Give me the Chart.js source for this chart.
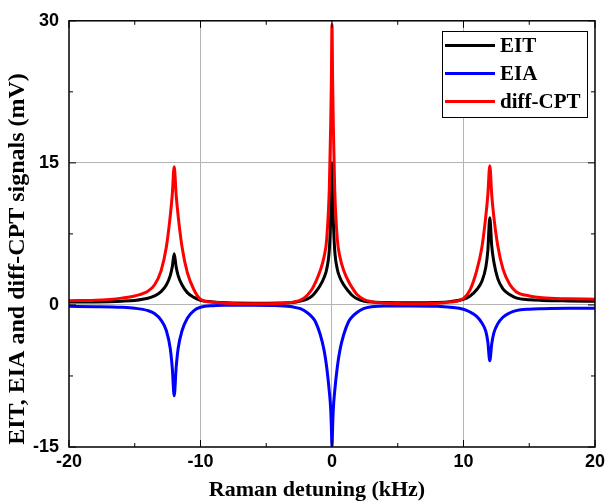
<!DOCTYPE html>
<html>
<head>
<meta charset="utf-8">
<script src="https://cdn.jsdelivr.net/npm/chart.js@4.4.0/dist/chart.umd.min.js"></script>
<style>
    html, body { margin: 0; padding: 0; background: #fff; }
    #wrap { width: 609px; height: 504px; }
</style>
</head>
<body>
<div id="wrap"><canvas id="cptChart" width="609" height="504"></canvas></div>
<script>
// Raman detuning (kHz)
const detuning = [
    -20, -18, -16, -15, -14, -13.5, -13, -12.6, -12.3, -12.15,
    -12, -11.85, -11.7, -11.4, -11, -10.5, -10, -9, -8, -6,
    -4, -3, -2.4, -1.9, -1.5, -1.25, -0.9, -0.6, -0.4, -0.2,
    -0.1, -0.05, 0, 0.05, 0.1, 0.2, 0.4, 0.6, 0.9, 1.25,
    1.5, 1.9, 2.4, 3, 4, 6, 8, 9, 10, 10.5,
    11, 11.4, 11.7, 11.85, 12, 12.15, 12.3, 12.6, 13, 13.5,
    14, 15, 16, 18, 20
];

// signals (mV)
const eitSignal = [
    0.3, 0.32, 0.4, 0.48, 0.7, 0.95, 1.4, 2.1, 3.1, 4.0,
    5.4, 4.0, 3.1, 2.1, 1.3, 0.8, 0.5, 0.3, 0.22, 0.18,
    0.2, 0.25, 0.4, 0.62, 0.95, 1.35, 2.05, 2.9, 3.8, 5.9,
    9.0, 11.5, 15.0, 11.5, 9.0, 5.9, 3.8, 2.9, 2.1, 1.45,
    1.05, 0.65, 0.42, 0.3, 0.25, 0.22, 0.25, 0.35, 0.6, 0.95,
    1.6, 2.5, 4.0, 5.7, 9.2, 6.2, 4.6, 2.8, 1.7, 1.1,
    0.75, 0.55, 0.48, 0.42, 0.38
];

const eiaSignal = [
    -0.15, -0.18, -0.25, -0.35, -0.6, -0.9, -1.6, -2.7, -4.6, -6.6,
    -9.6, -6.6, -4.6, -2.7, -1.4, -0.6, -0.25, -0.08, -0.04, -0.03,
    -0.08, -0.2, -0.4, -0.8, -1.3, -1.8, -3.1, -4.8, -6.6, -9.2,
    -11, -12.8, -15, -12.8, -11, -9.2, -6.6, -4.8, -3.1, -1.8,
    -1.3, -0.8, -0.4, -0.2, -0.1, -0.1, -0.15, -0.25, -0.45, -0.75,
    -1.2, -1.9, -2.8, -3.9, -5.9, -4.1, -3.0, -2.0, -1.3, -0.85,
    -0.6, -0.45, -0.4, -0.35, -0.35
];

const cptSignal = [
    0.45, 0.5, 0.72, 0.95, 1.45, 2.1, 3.6, 6.1, 9.4, 11.6,
    14.6, 11.6, 9.4, 6.1, 3.4, 1.6, 0.6, 0.28, 0.18, 0.12,
    0.15, 0.28, 0.5, 1.0, 1.7, 2.4, 3.6, 5.1, 7.0, 12.5,
    19, 23.5, 29.6, 23.5, 19, 12.5, 7.0, 5.1, 3.6, 2.5,
    1.9, 1.1, 0.6, 0.35, 0.2, 0.12, 0.18, 0.3, 0.7, 1.6,
    3.6, 6.1, 9.4, 11.6, 14.7, 11.6, 9.4, 6.3, 3.8, 2.2,
    1.4, 0.95, 0.75, 0.65, 0.6
];

const xMajor = [-20, -10, 0, 10, 20];
const xMinor = [-15, -5, 5, 15];
const yMajor = [-15, 0, 15, 30];
const yMinor = [-7.5, 7.5, 22.5];

const seriesNames = ['EIT', 'EIA', 'diff-CPT'];
const seriesColors = ['#000000', '#0000ff', '#ff0000'];

const toPoints = values => values.map((v, i) => ({ x: detuning[i], y: v }));

const tickFont = { family: "'Liberation Sans', Arial, sans-serif", size: 18, weight: 'bold' };

// frame, inward ticks, axis titles and the boxed legend
const decorations = {
    id: 'decorations',
    afterDraw(chart) {
        const { ctx, chartArea: a, scales: { x, y } } = chart;
        ctx.save();
        ctx.strokeStyle = '#000';
        ctx.lineWidth = 1.5;
        ctx.strokeRect(a.left, a.top, a.right - a.left, a.bottom - a.top);

        ctx.lineWidth = 1;
        ctx.beginPath();
        const tick = (vals, len) => {
            vals.forEach(v => {
                const px = x.getPixelForValue(v);
                ctx.moveTo(px, a.bottom); ctx.lineTo(px, a.bottom - len);
                ctx.moveTo(px, a.top); ctx.lineTo(px, a.top + len);
            });
        };
        const ytick = (vals, len) => {
            vals.forEach(v => {
                const py = y.getPixelForValue(v);
                ctx.moveTo(a.left, py); ctx.lineTo(a.left + len, py);
                ctx.moveTo(a.right, py); ctx.lineTo(a.right - len, py);
            });
        };
        tick(xMajor, 7); tick(xMinor, 4);
        ytick(yMajor, 7); ytick(yMinor, 4);
        ctx.stroke();

        // axis titles
        ctx.fillStyle = '#000';
        ctx.textAlign = 'center';
        ctx.textBaseline = 'middle';
        ctx.font = "bold 22px 'Liberation Serif', 'Times New Roman', serif";
        ctx.fillText('Raman detuning (kHz)', 317, 490);
        ctx.save();
        ctx.translate(18, 259);
        ctx.rotate(-Math.PI / 2);
        ctx.font = "bold 24px 'Liberation Serif', 'Times New Roman', serif";
        ctx.fillText('EIT, EIA and diff-CPT signals (mV)', 0, 0);
        ctx.restore();

        // legend
        ctx.fillStyle = '#fff';
        ctx.fillRect(442, 31, 146, 87);
        ctx.lineWidth = 1;
        ctx.strokeStyle = '#000';
        ctx.strokeRect(442.5, 31.5, 145, 86);
        ctx.font = "bold 21px 'Liberation Serif', 'Times New Roman', serif";
        ctx.textAlign = 'left';
        const rows = [45.5, 73.5, 101.5];
        seriesNames.forEach((name, i) => {
            ctx.strokeStyle = seriesColors[i];
            ctx.lineWidth = 3;
            ctx.beginPath();
            ctx.moveTo(445, rows[i]);
            ctx.lineTo(495, rows[i]);
            ctx.stroke();
            ctx.fillStyle = '#000';
            ctx.fillText(name, 500, rows[i] + 1);
        });
        ctx.restore();
    }
};

new Chart(document.getElementById('cptChart'), {
    type: 'line',
    data: {
        datasets: [{
            label: seriesNames[0],
            data: toPoints(eitSignal),
            borderColor: seriesColors[0],
            order: 3
        }, {
            label: seriesNames[1],
            data: toPoints(eiaSignal),
            borderColor: seriesColors[1],
            order: 2
        }, {
            label: seriesNames[2],
            data: toPoints(cptSignal),
            borderColor: seriesColors[2],
            order: 1
        }]
    },
    options: {
        responsive: false,
        animation: false,
        elements: {
            point: { radius: 0 },
            line: { borderWidth: 3, cubicInterpolationMode: 'monotone', fill: false }
        },
        layout: { padding: { top: 20, right: 12, left: 0, bottom: 0 } },
        plugins: {
            legend: { display: false },
            tooltip: { enabled: false }
        },
        scales: {
            x: {
                type: 'linear',
                min: -20,
                max: 20,
                ticks: { stepSize: 10, font: tickFont, color: '#000', padding: 4, maxRotation: 0 },
                grid: {
                    drawTicks: false,
                    color: c => (c.tick.value === -20 || c.tick.value === 20) ? 'rgba(0,0,0,0)' : '#b4b4b4'
                },
                border: { display: false },
                afterFit: s => { s.height = 57; }
            },
            y: {
                min: -15,
                max: 30,
                ticks: { stepSize: 15, font: tickFont, color: '#000', padding: 10 },
                grid: {
                    drawTicks: false,
                    color: c => (c.tick.value === -15 || c.tick.value === 30) ? 'rgba(0,0,0,0)' : '#b4b4b4'
                },
                border: { display: false },
                afterFit: s => { s.width = 69; }
            }
        }
    },
    plugins: [decorations]
});
</script>
</body>
</html>
